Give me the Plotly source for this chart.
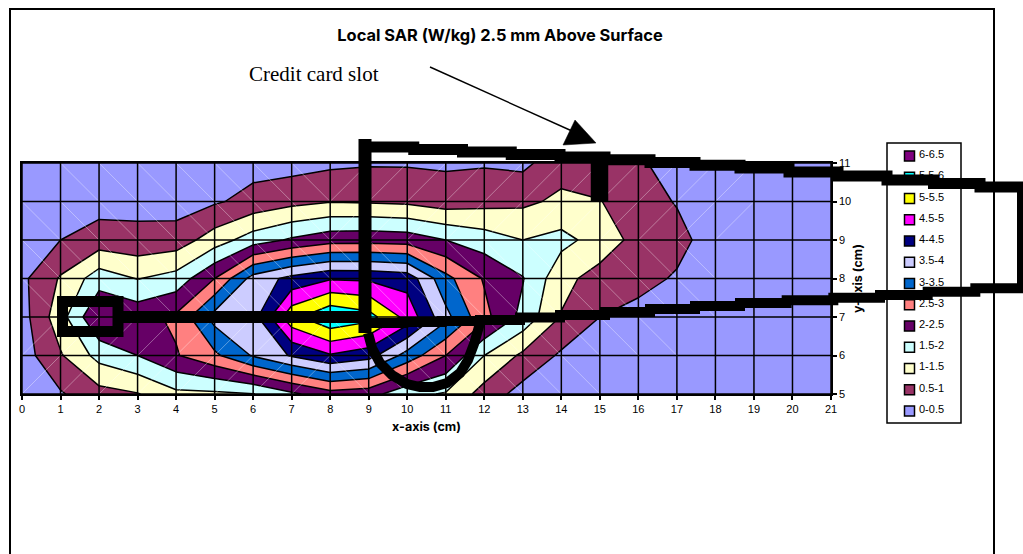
import plotly.graph_objects as go

x_cm = list(range(22))
y_cm = [5, 6, 7, 8, 9, 10, 11]
z_y5 = [.1, .45, .82, .97, 1.38, 1.4, 1.48, 1.9, 2.3, 2.2, 1.65, 1.45, .79, .3, .1, .05, .02, 0, 0, 0, 0, 0]
z_y6 = [.26, .95, 1.67, 2.0, 2.46, 2.9, 3.55, 4.05, 4.45, 4.2, 3.3, 2.5, 1.5, .9, .42, .2, .1, .05, .03, 0, 0, 0]
z_y7 = [.3, 1.3, 2.5, 2.33, 2.59, 3.69, 3.8, 5.35, 5.95, 5.7, 4.83, 3.65, 2.65, 1.85, .97, .5, .35, .2, .1, .05, 0, 0]
z_y8 = [.39, 1.05, 1.77, 1.48, 1.69, 2.5, 3.7, 4.15, 4.45, 4.42, 4.3, 3.15, 2.45, 2.03, 1.15, .8, .65, .45, .2, .1, .05, 0]
z_y9 = [.25, .5, .73, .66, .73, 1.25, 1.75, 2.07, 2.3, 2.33, 2.28, 2.0, 1.75, 1.5, 1.65, 1.3, .82, .65, .27, .1, .05, 0]
z_y10 = [.1, .25, .3, .33, .27, .44, .66, .85, .97, .95, .9, .75, .83, .9, 1.1, 1.02, .7, .47, .3, .1, .05, 0]
z_y11 = [0, .1, .1, .08, .1, .12, .33, .31, .4, .45, .45, .43, .45, .38, .8, .7, .55, .35, .2, .1, .05, 0]
z_rows = [z_y5, z_y6, z_y7, z_y8, z_y9, z_y10, z_y11]
band_labels = ["0-0.5", "0.5-1", "1-1.5", "1.5-2", "2-2.5", "2.5-3", "3-3.5", "3.5-4", "4-4.5", "4.5-5", "5-5.5", "5.5-6", "6-6.5"]
band_colors = ["#9999FF", "#993366", "#FFFFCC", "#CCFFFF", "#660066", "#FF8080", "#0066CC", "#CCCCFF", "#000080", "#FF00FF", "#FFFF00", "#00FFFF", "#800080"]

W, H = 1023, 554
def px(v): return v / W
def py(v): return 1 - v / H
FONT = "Liberation Sans"
BOLD = "Inter"

# one colour slot centred on each band's mid value as plotly.js looks it up
n_up = len(band_colors) - 1
scale = []
for i, c in enumerate(band_colors):
    scale += [[max((i - 0.5) / n_up, 0), c], [min((i + 0.5) / n_up, 1), c]]

fig = go.Figure()
fig.add_trace(go.Contour(
    x=x_cm, y=y_cm, z=z_rows,
    colorscale=scale, showscale=False, hoverinfo="skip",
    contours=dict(start=0.5, end=6, size=0.5, coloring="fill"),
    line=dict(color="black", width=1.5, smoothing=0)))

# faint triangulation seams of the original contour renderer
seam_x, seam_y = [], []
for j in range(len(y_cm) - 1):
    for i in range(len(x_cm) - 1):
        corners = [z_rows[j][i], z_rows[j][i + 1], z_rows[j + 1][i], z_rows[j + 1][i + 1]]
        if max(corners) < 0.3 or min(corners) <= 0:
            continue
        if i < 8:
            rising = y_cm[j] < 7
        else:
            rising = y_cm[j] >= 9
        seam_x += [x_cm[i], x_cm[i + 1], None]
        seam_y += ([y_cm[j], y_cm[j + 1], None] if rising else [y_cm[j + 1], y_cm[j], None])
fig.add_trace(go.Scatter(x=seam_x, y=seam_y, mode="lines", line=dict(color="rgba(255,255,255,0.45)", width=0.8),
                         hoverinfo="skip", showlegend=False))

grid_x, grid_y = [], []
for v in x_cm:
    grid_x += [v, v, None]
    grid_y += [y_cm[0], y_cm[-1], None]
for v in y_cm:
    grid_x += [x_cm[0], x_cm[-1], None]
    grid_y += [v, v, None]
fig.add_trace(go.Scatter(x=grid_x, y=grid_y, mode="lines", line=dict(color="black", width=1.5),
                         hoverinfo="skip", showlegend=False))

n = len(band_colors)
rows = list(range(n))
fig.add_trace(go.Scatter(x=[909.5] * n, y=rows, mode="markers", xaxis="x2", yaxis="y2",
                         marker=dict(symbol="square", size=10, color=band_colors, line=dict(color="black", width=1.5)),
                         hoverinfo="skip", showlegend=False))

annotations = [
    dict(text="Credit card slot", xref="paper", yref="paper", x=px(248), y=py(74), xanchor="left", yanchor="middle",
         showarrow=False, xshift=-1, font=dict(family="Liberation Serif", size=21, color="black")),
]
for i, label in enumerate(band_labels):
    annotations.append(dict(text=label, xref="x2", yref="y2", x=916.5, y=i, xanchor="left", yanchor="middle", yshift=2,
                            showarrow=False, font=dict(family=FONT, size=11, color="black")))

def poly(pts, closed=False):
    d = "M" + " L".join(f"{px(a)},{py(b)}" for a, b in pts)
    return d + (" Z" if closed else "")

def stroke(pts, w, closed=False):
    return dict(type="path", xref="paper", yref="paper", path=poly(pts, closed), layer="above",
                line=dict(color="black", width=w), fillcolor="rgba(0,0,0,0)")

def solid(pts):
    return dict(type="path", xref="paper", yref="paper", path=poly(pts, True), layer="above",
                line=dict(color="black", width=0.5), fillcolor="black")

def stair(pts, run=44):
    # the card outline in the source is a coarse bitmap: long flat runs with small jumps
    out = [pts[0]]
    for (a0, b0), (a1, b1) in zip(pts, pts[1:]):
        steps = max(1, round((a1 - a0) / run))
        for k in range(1, steps + 1):
            a = a0 + (a1 - a0) * k / steps
            b = b0 + (b1 - b0) * k / steps
            out += [(a, out[-1][1]), (a, b)]
    return out

shapes = [
    dict(type="path", xref="paper", yref="paper", layer="below", path=poly([(10, 554), (10, 9), (994, 9), (994, 554)]),
         line=dict(color="black", width=2)),
    dict(type="rect", xref="paper", yref="paper", layer="below", x0=px(887), x1=px(961), y0=py(143), y1=py(423),
         line=dict(color="black", width=1.5), fillcolor="white"),
    stroke(stair([(365, 147), (560, 157), (740, 168), (887, 180), (980, 187), (1023, 188)]), 11),
    stroke([(1020, 188), (1020, 286)], 6),
    stroke(stair([(365, 323), (480, 320), (560, 315), (740, 303), (880, 295), (1023, 285)]), 10),
    stroke([(365, 139), (365, 333)], 13),
    stroke([(62.5, 301.5), (118, 301.5), (118, 331.5), (62.5, 331.5)], 11, closed=True),
    stroke([(118, 317), (365, 317)], 12),
    stroke([(368, 333), (372, 348), (380, 363), (392, 375), (407, 384), (420, 387), (433, 387), (447, 383),
            (460, 373), (468, 360), (474, 344), (480, 323)], 10),
    solid([(591, 160), (608, 160), (608, 201), (591, 201)]),
    stroke([(430, 67), (572, 131)], 1.4),
    solid([(575, 120), (596, 143), (563, 145)]),
]

axis_line = dict(showline=True, linecolor="black", linewidth=1.5, mirror=True, showgrid=False, zeroline=False,
                 automargin=False, ticks="outside", ticklen=4, tickwidth=1.5, tickcolor="black",
                 tickfont=dict(family=FONT, size=11, color="black"))

fig.update_layout(
    width=W, height=H, margin=dict(l=0, r=0, t=0, b=0), paper_bgcolor="white", plot_bgcolor="white",
    showlegend=False,
    title=dict(text="<b>Local SAR (W/kg) 2.5 mm Above Surface</b>", x=500 / W, y=py(35), xanchor="center", yanchor="middle",
               automargin=False, font=dict(family=BOLD, size=16.4, color="black")),
    xaxis=dict(domain=[px(22), px(831)], range=[0, 21], tickvals=x_cm, anchor="y",
               title=dict(text="<b>x-axis (cm)</b>", font=dict(family=BOLD, size=12.5, color="black"), standoff=8), **axis_line),
    yaxis=dict(domain=[py(394), py(163)], range=[5, 11], tickvals=y_cm, side="right", anchor="x",
               title=dict(text="<b>y-axis (cm)</b>", font=dict(family=BOLD, size=12.5, color="black"), standoff=3), **axis_line),
    xaxis2=dict(domain=[px(887), px(961)], range=[887, 961], visible=False, anchor="y2"),
    yaxis2=dict(domain=[py(421.6), py(145.4)], range=[-0.5, 12.5], visible=False, anchor="x2"),
    annotations=annotations, shapes=shapes,
)
fig.write_html("out.html", config={"displayModeBar": False},
               post_script="document.body.style.margin='0';document.body.style.overflow='hidden';")
